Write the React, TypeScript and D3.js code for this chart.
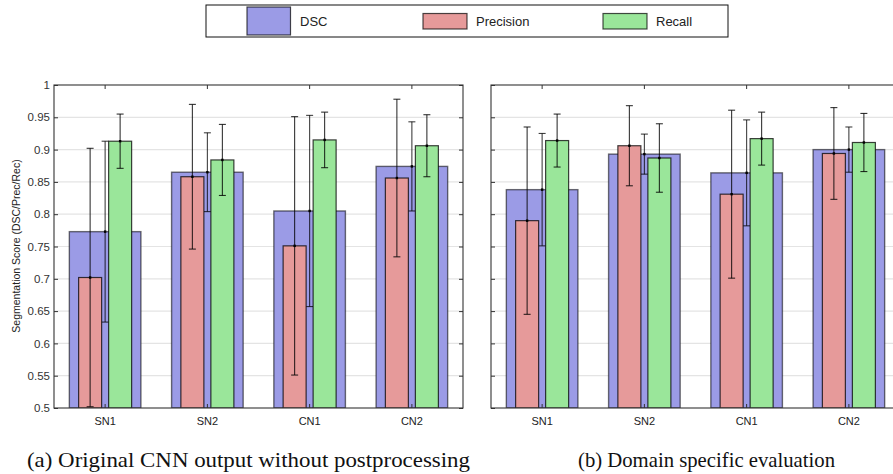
import React, { useEffect, useRef } from "react";
import * as d3 from "d3";

const categories = ["SN1", "SN2", "CN1", "CN2"];
const seriesNames = ["DSC", "Precision", "Recall"];
const yTicks = [0.5, 0.55, 0.6, 0.65, 0.7, 0.75, 0.8, 0.85, 0.9, 0.95, 1];

// (a) original CNN output
const dscA = [0.773, 0.865, 0.805, 0.874];
const dscErrA = [0.14, 0.061, 0.148, 0.069];
const precA = [0.702, 0.858, 0.751, 0.856];
const precErrA = [0.2, 0.112, 0.2, 0.122];
const recA = [0.913, 0.884, 0.915, 0.906];
const recErrA = [0.042, 0.055, 0.043, 0.048];

// (b) domain specific evaluation
const dscB = [0.838, 0.893, 0.864, 0.9];
const dscErrB = [0.087, 0.031, 0.082, 0.035];
const precB = [0.79, 0.906, 0.831, 0.894];
const precErrB = [0.145, 0.062, 0.13, 0.071];
const recB = [0.914, 0.887, 0.917, 0.911];
const recErrB = [0.041, 0.053, 0.041, 0.045];

const captions = [
  "(a) Original CNN output without postprocessing",
  "(b) Domain specific evaluation",
];

const colors = ["#9b9be6", "#e69a9a", "#9ae69a"];

export default function App() {
  const ref = useRef<SVGSVGElement>(null);

  useEffect(() => {
    const svg = d3.select(ref.current);
    svg.selectAll("*").remove();

    const top = 85;
    const bottom = 408;
    const y = d3.scaleLinear().domain([0.5, 1]).range([bottom, top]);

    const panels = [
      { x0: 54, x1: 463, dsc: dscA, dscE: dscErrA, prec: precA, precE: precErrA, rec: recA, recE: recErrA, labels: true, cap: captions[0], cx: 248.5, cw: 443 },
      { x0: 491, x1: 900, dsc: dscB, dscE: dscErrB, prec: precB, precE: precErrB, rec: recB, recE: recErrB, labels: false, cap: captions[1], cx: 706.5, cw: 257 },
    ];

    const defs = svg.append("defs");

    panels.forEach((p, pi) => {
      const x = d3.scaleBand().domain(categories).range([p.x0, p.x1]).padding(0);
      const bw = x.bandwidth();
      const g = svg.append("g");

      defs.append("clipPath").attr("id", "clip" + pi)
        .append("rect").attr("x", p.x0).attr("y", top).attr("width", p.x1 - p.x0).attr("height", bottom - top);

      // grid
      g.selectAll(".grid").data(yTicks.slice(1, -1)).enter().append("line")
        .attr("x1", p.x0).attr("x2", p.x1)
        .attr("y1", d => y(d)).attr("y2", d => y(d))
        .attr("stroke", "#e4e4e4").attr("stroke-width", 1.2);

      const plot = g.append("g").attr("clip-path", `url(#clip${pi})`);

      const errBar = (cx: number, v: number, e: number, op: number) => {
        const eg = plot.append("g").attr("stroke", "#000").attr("stroke-opacity", op).attr("stroke-width", 1.1);
        eg.append("line").attr("x1", cx).attr("x2", cx).attr("y1", y(v - e)).attr("y2", y(v + e));
        eg.append("line").attr("x1", cx - 3.5).attr("x2", cx + 3.5).attr("y1", y(v + e)).attr("y2", y(v + e));
        eg.append("line").attr("x1", cx - 3.5).attr("x2", cx + 3.5).attr("y1", y(v - e)).attr("y2", y(v - e));
        eg.append("rect").attr("x", cx - 1.2).attr("y", y(v) - 1.2).attr("width", 2.4).attr("height", 2.4)
          .attr("fill", "#000").attr("stroke", "none");
      };

      categories.forEach((c, i) => {
        const cx = (x(c) as number) + bw / 2;
        const wide = bw * 0.7;
        plot.append("rect")
          .attr("x", cx - wide / 2).attr("y", y(p.dsc[i]))
          .attr("width", wide).attr("height", bottom - y(p.dsc[i]))
          .attr("fill", colors[0]).attr("stroke", "#000").attr("stroke-opacity", 0.55).attr("stroke-width", 1.4);
        errBar(cx, p.dsc[i], p.dscE[i], 0.75);

        const nw = 23;
        const sub = [
          { v: p.prec[i], e: p.precE[i], off: -15, col: colors[1] },
          { v: p.rec[i], e: p.recE[i], off: 15, col: colors[2] },
        ];
        sub.forEach(s => {
          plot.append("rect")
            .attr("x", cx + s.off - nw / 2).attr("y", y(s.v))
            .attr("width", nw).attr("height", bottom - y(s.v))
            .attr("fill", s.col).attr("stroke", "#000").attr("stroke-opacity", 0.75).attr("stroke-width", 1.2);
        });
        sub.forEach(s => errBar(cx + s.off, s.v, s.e, 0.8));
      });

      // frame
      g.append("rect").attr("x", p.x0).attr("y", top).attr("width", p.x1 - p.x0).attr("height", bottom - top)
        .attr("fill", "none").attr("stroke", "#333").attr("stroke-width", 1.1);

      // y ticks
      const yAxL = d3.axisLeft(y).tickValues(yTicks).tickSize(-4).tickFormat(p.labels ? (d => String(+d)) : () => "");
      const ga = g.append("g").attr("transform", `translate(${p.x0},0)`).call(yAxL);
      ga.select(".domain").remove();
      ga.selectAll("line").attr("stroke", "#333");
      ga.selectAll("text").attr("x", -4).attr("font-family", "Liberation Sans, Arial, sans-serif")
        .attr("font-size", 11.5).attr("fill", "#333");
      const gr = g.append("g").attr("transform", `translate(${p.x1},0)`)
        .call(d3.axisRight(y).tickValues(yTicks).tickSize(-4).tickFormat(() => ""));
      gr.select(".domain").remove();
      gr.selectAll("line").attr("stroke", "#333");

      // x ticks
      const gx = g.append("g").attr("transform", `translate(0,${bottom})`)
        .call(d3.axisBottom(x).tickSize(-4).tickPadding(9));
      gx.select(".domain").remove();
      gx.selectAll("line").attr("stroke", "#333");
      gx.selectAll("text").attr("font-family", "Liberation Sans, Arial, sans-serif")
        .attr("font-size", 11).attr("fill", "#222");
      const gt = g.append("g").attr("transform", `translate(0,${top})`)
        .call(d3.axisTop(x).tickSize(-4).tickFormat(() => ""));
      gt.select(".domain").remove();
      gt.selectAll("line").attr("stroke", "#333");

      svg.append("text").attr("x", p.cx).attr("y", 467).attr("text-anchor", "middle")
        .attr("font-family", "Liberation Serif, Times New Roman, serif").attr("font-size", 21)
        .attr("textLength", p.cw).attr("lengthAdjust", "spacingAndGlyphs")
        .attr("fill", "#111").text(p.cap);
    });

    svg.append("text")
      .attr("transform", "translate(20,246) rotate(-90)")
      .attr("text-anchor", "middle")
      .attr("font-family", "Liberation Sans, Arial, sans-serif").attr("font-size", 10.5).attr("fill", "#222")
      .text("Segmentation Score (DSC/Prec/Rec)");

    // legend
    const lg = svg.append("g");
    lg.append("rect").attr("x", 206).attr("y", 5).attr("width", 522).attr("height", 32)
      .attr("fill", "#fff").attr("stroke", "#111").attr("stroke-width", 1);
    const legendX = [247, 423, 603];
    seriesNames.forEach((n, i) => {
      const big = i === 0;
      lg.append("rect").attr("x", legendX[i]).attr("y", big ? 7 : 13.5)
        .attr("width", big ? 43.5 : 44).attr("height", big ? 28 : 15.5)
        .attr("fill", colors[i]).attr("stroke", "#000").attr("stroke-opacity", 0.7).attr("stroke-width", 1.2);
      lg.append("text").attr("x", legendX[i] + 53).attr("y", 25.5)
        .attr("font-family", "Liberation Sans, Arial, sans-serif").attr("font-size", 13).attr("fill", "#222")
        .text(n);
    });
  }, []);

  return (
    <svg ref={ref} width={893} height={474} style={{ position: "absolute", left: 0, top: 0, background: "#fff" }} />
  );
}
